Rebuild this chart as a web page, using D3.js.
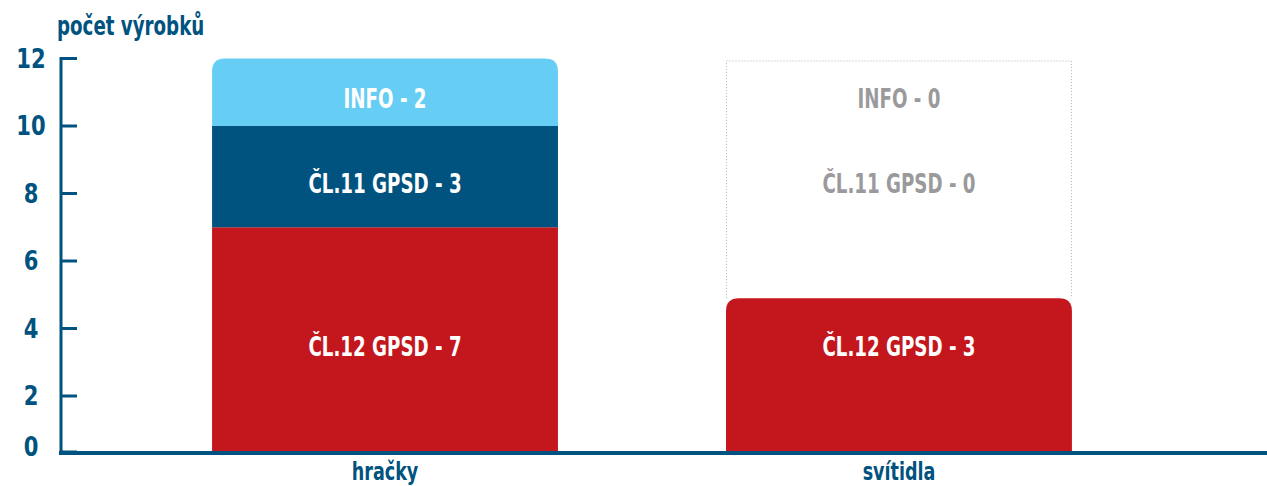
<!DOCTYPE html>
<html><head><meta charset="utf-8">
<script src="https://cdn.jsdelivr.net/npm/d3@7"></script>
<style>body{margin:0;background:#fff}svg{display:block}</style>
</head><body>
<svg id="c" width="1267" height="486"></svg>
<script>
const categories = ["hračky", "svítidla"];
const seriesNames = ["ČL.12 GPSD", "ČL.11 GPSD", "INFO"];
// bar heights as drawn
const cl12Values = [7, 4.9];
const cl11Values = [3, 0];
const infoValues = [2, 0];
// numbers printed in the labels
const cl12Counts = [7, 3];
const cl11Counts = [3, 0];
const infoCounts = [2, 0];
const yTicks = [0, 2, 4, 6, 8, 10, 12];
const yTitle = "počet výrobků";

const colors = ["#c3161d", "#00527f", "#66cdf5"];
const dark = "#00527f";
const font = "'DejaVu Sans Condensed','DejaVu Sans',sans-serif";

const svg = d3.select("#c");
const W = 1267;
const y = d3.scaleLinear().domain([0, 2, 12]).range([452, 396, 58.5]);
const x = d3.scaleBand().domain(categories).range([44, 1240]).padding(0.327);

const values = [cl12Values, cl11Values, infoValues];
const counts = [cl12Counts, cl11Counts, infoCounts];

function label(px, py, txt, opts) {
  const sx = opts.sx || 0.78;
  return svg.append("text")
    .attr("transform", `translate(${px},${py}) scale(${sx},1)`)
    .attr("text-anchor", opts.anchor || "middle")
    .attr("font-family", font).attr("font-weight", "bold")
    .attr("font-size", opts.size || 26)
    .attr("fill", opts.fill || dark).text(txt);
}

const rows = categories.map((c, i) => {
  const r = {cat: c};
  seriesNames.forEach((s, k) => r[s] = values[k][i]);
  return r;
});
const stack = d3.stack().keys(seriesNames)(rows);

const r = 13;
function topRounded(x0, y0, w, h, rad) {
  rad = Math.min(rad, h, w / 2);
  return `M${x0},${y0 + h}V${y0 + rad}Q${x0},${y0} ${x0 + rad},${y0}H${x0 + w - rad}Q${x0 + w},${y0} ${x0 + w},${y0 + rad}V${y0 + h}Z`;
}

// dotted placeholder for empty remainder
categories.forEach((c, i) => {
  const total = d3.sum(values, v => v[i]);
  const maxV = y.domain()[2];
  if (total < maxV) {
    const x0 = x(c), w = x.bandwidth();
    svg.append("path")
      .attr("d", `M${x0 + 0.5},${y(total)}V${y(maxV) + 2.5}H${x0 + w - 0.5}V${y(total)}`)
      .attr("fill", "none").attr("stroke", "#bdbdbd").attr("stroke-width", 1)
      .attr("stroke-dasharray", "1.2,1.8");
  }
});

// bars
stack.forEach((layer, k) => {
  layer.forEach((d, i) => {
    if (d[1] - d[0] <= 0) return;
    const isTop = stack.slice(k + 1).every(l => l[i][1] - l[i][0] <= 0);
    const x0 = x(categories[i]), w = x.bandwidth();
    const y0 = y(d[1]), h = y(d[0]) - y(d[1]);
    svg.append("path")
      .attr("d", isTop ? topRounded(x0, y0, w, h, r) : `M${x0},${y0}h${w}v${h}h${-w}Z`)
      .attr("fill", colors[k]);
  });
});

// labels: positioned at the first category's segment positions
stack.forEach((layer, k) => {
  const ref = layer[0];
  const ly = (y(ref[0]) + y(ref[1])) / 2 + 16;
  layer.forEach((d, i) => {
    const filled = d[1] - d[0] > 0;
    label(x(categories[i]) + x.bandwidth() / 2, ly, `${seriesNames[k]} - ${counts[k][i]}`,
      {fill: filled ? "#fff" : "#9a9a9c"});
  });
});

// y axis
const gy = svg.append("g");
gy.append("line").attr("x1", 61).attr("x2", 61).attr("y1", y(12) - 1.5).attr("y2", y(0) + 2)
  .attr("stroke", dark).attr("stroke-width", 3);
yTicks.forEach(t => {
  gy.append("line").attr("x1", 61).attr("x2", 77).attr("y1", y(t)).attr("y2", y(t))
    .attr("stroke", dark).attr("stroke-width", 3);
  label(31, (t === 0 ? y(t) - 5 : y(t)) + 9, d3.format("d")(t), {sx: 0.9});
});

// x axis
svg.append("line").attr("x1", 59).attr("x2", W).attr("y1", 453).attr("y2", 453)
  .attr("stroke", dark).attr("stroke-width", 4);
categories.forEach(c => {
  label(x(c) + x.bandwidth() / 2, 480, c, {size: 25});
});

// title
label(57, 35, yTitle, {anchor: "start"});
</script>
</body></html>
